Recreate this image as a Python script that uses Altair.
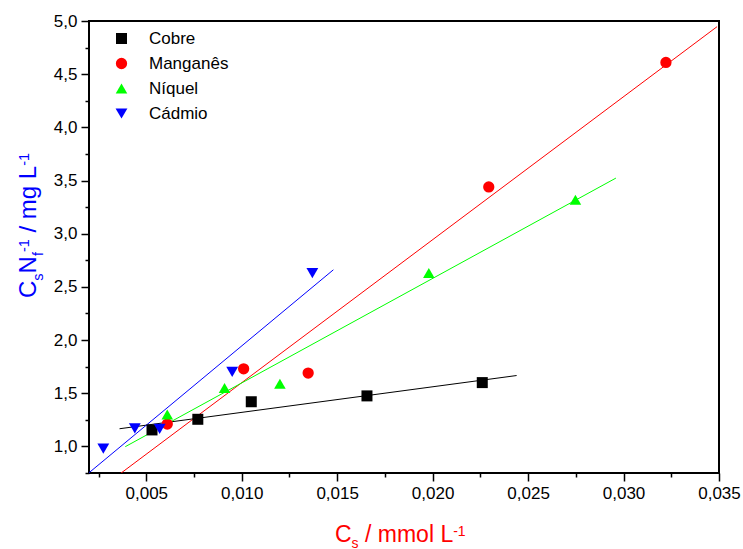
import altair as alt
import pandas as pd

# ---------------- data ----------------
metals = ["Cobre", "Manganês", "Níquel", "Cádmio"]

cobre_x = [0.0053, 0.0077, 0.0105, 0.01656, 0.0226]
cobre_y = [1.155, 1.255, 1.42, 1.475, 1.60]

mn_x = [0.0061, 0.0101, 0.01348, 0.02294, 0.03222]
mn_y = [1.21, 1.73, 1.69, 3.44, 4.61]

ni_x = [0.0061, 0.0091, 0.0120, 0.0198, 0.02748]
ni_y = [1.30, 1.55, 1.59, 2.63, 3.32]

cd_x = [0.00275, 0.0044, 0.0057, 0.0095, 0.0137]
cd_y = [0.98, 1.17, 1.165, 1.70, 2.63]

# x-range over which each linear fit is drawn
fit_start = [0.0036, 0.0030, 0.0039, 0.0020]
fit_end = [0.0244, 0.0349, 0.0296, 0.0148]

x_major_ticks = [0.005, 0.01, 0.015, 0.02, 0.025, 0.03, 0.035]
x_minor_ticks = [0.0025, 0.0075, 0.0125, 0.0175, 0.0225, 0.0275, 0.0325]
y_major_ticks = [1.0, 1.5, 2.0, 2.5, 3.0, 3.5, 4.0, 4.5, 5.0]
y_minor_ticks = [0.75, 1.25, 1.75, 2.25, 2.75, 3.25, 3.75, 4.25, 4.75]

# ---------------- styles ----------------
colors = ["#000000", "#ff0000", "#00ff00", "#0000ff"]
shapes = ["square", "circle", "triangle-up", "triangle-down"]
marker_sizes = [121, 140, 210, 210]
FONT = "Liberation Sans"

W, H = 630, 452
PAD_L, PAD_T = 89, 21

xs = [cobre_x, mn_x, ni_x, cd_x]
ys = [cobre_y, mn_y, ni_y, cd_y]
rows = []
for m, xv, yv in zip(metals, xs, ys):
    for a, b in zip(xv, yv):
        rows.append({"x": a, "y": b, "metal": m})
df = pd.DataFrame(rows)

x_scale = alt.Scale(domain=[0.002, 0.035], nice=False, zero=False)
y_scale = alt.Scale(domain=[0.75, 5.0], nice=False, zero=False)

common = dict(title=None, grid=False, domain=False, tickColor="black", tickWidth=1.5,
              labelFont=FONT, labelFontSize=17, labelColor="black", labelPadding=4,
              labelOverlap=False, labelFlush=False)

x_axis_major = alt.Axis(values=x_major_ticks, orient="bottom", tickSize=8,
                        labelExpr="replace(format(datum.value, '.3f'), '.', ',')", **common)
y_axis_major = alt.Axis(values=y_major_ticks, orient="left", tickSize=8,
                        labelExpr="replace(format(datum.value, '.1f'), '.', ',')", **common)
x_axis_minor = alt.Axis(values=x_minor_ticks, orient="bottom", tickSize=4, labels=False,
                        title=None, grid=False, domain=False, tickColor="black", tickWidth=1.5)
y_axis_minor = alt.Axis(values=y_minor_ticks, orient="left", tickSize=4, labels=False,
                        title=None, grid=False, domain=False, tickColor="black", tickWidth=1.5)

legend = alt.Legend(
    title=None, orient="none", legendX=24, legendY=9, padding=0,
    labelFont=FONT, labelFontSize=17, labelColor="black", labelOffset=19,
    rowPadding=7, symbolSize=125, symbolStrokeWidth=0,
)

points = alt.Chart(df).mark_point(filled=True, opacity=1).encode(
    x=alt.X("x:Q", scale=x_scale, axis=x_axis_major),
    y=alt.Y("y:Q", scale=y_scale, axis=y_axis_major),
    color=alt.Color("metal:N", scale=alt.Scale(domain=metals, range=colors), legend=legend),
    shape=alt.Shape("metal:N", scale=alt.Scale(domain=metals, range=shapes), legend=legend),
    size=alt.Size("metal:N", scale=alt.Scale(domain=metals, range=marker_sizes), legend=None),
)

minor = alt.Chart(df).mark_point(opacity=0).encode(
    x=alt.X("x:Q", scale=x_scale, axis=x_axis_minor),
    y=alt.Y("y:Q", scale=y_scale, axis=y_axis_minor),
)

lines = []
for m, c, s, e in zip(metals, colors, fit_start, fit_end):
    lines.append(
        alt.Chart(df)
        .transform_filter(alt.datum.metal == m)
        .transform_regression("x", "y", extent=[s, e])
        .mark_line(color=c, strokeWidth=1, clip=True)
        .encode(x=alt.X("x:Q", scale=x_scale, axis=None),
                y=alt.Y("y:Q", scale=y_scale, axis=None))
    )

# ---------------- axis titles with sub/superscripts ----------------
ADV = {"C": .722, "s": .5, "N": .722, "f": .278, "-": .333, "1": .556, " ": .278,
       "/": .278, "m": .833, "g": .556, "L": .556, "o": .556, "l": .222}


def adv(t, size):
    return sum(ADV[ch] for ch in t) * size


x_title_pieces = [("C", "main"), ("s", "sub"), (" / mmol L", "main"), ("-1", "sup")]
y_title_pieces = [("C", "main"), ("s", "sub"), ("N", "main"), ("f", "sub"),
                  ("-1", "sup"), (" / mg L", "main"), ("-1", "sup")]

one = pd.DataFrame({"k": [0]})


def build_title(pieces, start, base, F, S, color, rotated):
    pos = start
    sup_shift = 0.716 * (F - S)
    sub_shift = 0.28 * F
    out = []
    for text, kind in pieces:
        size = F if kind == "main" else S
        stripped = text.lstrip(" ")
        lead = adv(text[: len(text) - len(stripped)], size)
        shift = 0 if kind == "main" else (sub_shift if kind == "sub" else -sup_shift)
        if rotated:
            x = base + shift
            y = pos - lead
        else:
            x = pos + lead
            y = base + shift
        out.append(
            alt.Chart(one).mark_text(
                text=stripped, font=FONT, fontSize=size, color=color,
                align="left", baseline="alphabetic", angle=270 if rotated else 0,
            ).encode(x=alt.value(x - PAD_L), y=alt.value(y - PAD_T))
        )
        pos = pos - adv(text, size) if rotated else pos + adv(text, size)
    return out


title_layers = []
title_layers += build_title(x_title_pieces, 335, 542, 23, 14, "#ff0000", False)
title_layers += build_title(y_title_pieces, 298, 36, 24, 14.5, "#0000ff", True)

chart = alt.layer(*lines, minor, points, *title_layers).resolve_axis(
    x="independent", y="independent"
).properties(
    width=W, height=H,
    autosize=alt.AutoSizeParams(type="none"),
    padding={"left": PAD_L, "top": PAD_T, "right": 743 - PAD_L - W, "bottom": 549 - PAD_T - H},
    background="white",
).configure_view(stroke="black", strokeWidth=2)

chart.save("out.html", embed_options={"renderer": "svg", "actions": False})
